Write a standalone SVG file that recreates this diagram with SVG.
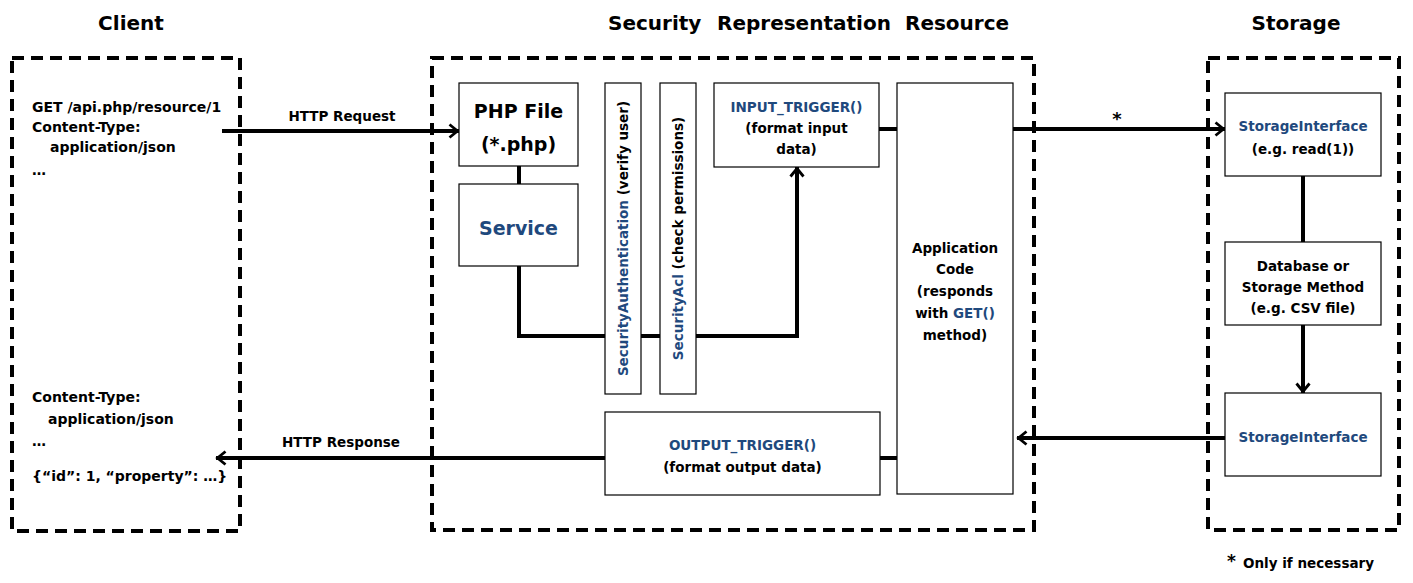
<svg xmlns="http://www.w3.org/2000/svg" width="1413" height="583" viewBox="0 0 1413 583">
<style>
text { font-family: "DejaVu Sans", "Liberation Sans", sans-serif; font-weight: bold; fill: #000; font-size: 13.5px; }
.title { font-size: 20px; }
.big { font-size: 19px; }
.cl { font-size: 14px; }
.blue { fill: #1F497D; }
.mid { text-anchor: middle; }
.node { fill: #fff; stroke: #000; stroke-width: 1.2; }
.zone { fill: none; stroke: #000; stroke-width: 4; stroke-dasharray: 12 7; }
.conn { fill: none; stroke: #000; stroke-width: 4; }
.arr { marker-end: url(#chev); }
</style>
<defs>
<marker id="chev" viewBox="-12 -9 14 18" refX="0" refY="0" markerWidth="14" markerHeight="18" markerUnits="userSpaceOnUse" orient="auto">
<path d="M-9.5,-6.5 L-1.5,0 L-9.5,6.5" fill="none" stroke="#000" stroke-width="2.8"/>
</marker>
</defs>
<rect width="1413" height="583" fill="#fff"/>

<g id="titles">
<text class="title mid" x="131" y="30">Client</text>
<text class="title" y="30"><tspan x="608">Security</tspan><tspan x="717">Representation</tspan><tspan x="905">Resource</tspan></text>
<text class="title mid" x="1296" y="30">Storage</text>
</g>

<g id="zones">
<rect id="zone-client" class="zone" x="12" y="58" width="228" height="473"/>
<rect id="zone-srr" class="zone" x="432" y="58" width="602" height="472"/>
<rect id="zone-storage" class="zone" x="1208" y="58" width="191" height="472"/>
</g>

<g id="connectors">
<path class="conn arr" d="M222,131 H459"/>
<path class="conn" d="M519,166 V184"/>
<path class="conn arr" d="M519,266 V336 H797 V167"/>
<path class="conn" d="M879,129 H897"/>
<path class="conn arr" d="M1013,129 H1225"/>
<path class="conn" d="M1303,176 V242"/>
<path class="conn arr" d="M1303,325 V393"/>
<path class="conn arr" d="M1225,438 H1017"/>
<path class="conn arr" d="M605,458 H216"/>
<path class="conn" d="M880,458 H897"/>
<text class="mid" x="342" y="121">HTTP Request</text>
<text class="mid" x="341" y="447">HTTP Response</text>
<text class="mid" x="1117" y="125" style="font-size:18px">*</text>
</g>

<g id="client-request">
<text class="cl" x="32" y="112">GET /api.php/resource/1</text>
<text class="cl" x="32" y="132">Content-Type:</text>
<text class="cl" x="50" y="152">application/json</text>
<text class="cl" x="32" y="175">…</text>
</g>

<g id="client-response">
<text class="cl" x="32" y="402">Content-Type:</text>
<text class="cl" x="48" y="424">application/json</text>
<text class="cl" x="32" y="446">…</text>
<text class="cl" x="32" y="481">{“id”: 1, “property”: …}</text>
</g>

<g id="php-file">
<rect class="node" x="459" y="83" width="119" height="83"/>
<text class="big mid" x="518.5" y="118">PHP File</text>
<text class="big mid" x="518.5" y="151">(*.php)</text>
</g>

<g id="service">
<rect class="node" x="459" y="184" width="119" height="82"/>
<text class="big mid blue" x="518.5" y="235">Service</text>
</g>

<g id="security-authentication">
<rect class="node" x="605" y="83" width="36" height="311"/>
<text class="mid" transform="translate(623,238.5) rotate(-90)" y="5"><tspan class="blue">SecurityAuthentication</tspan> (verify user)</text>
</g>

<g id="security-acl">
<rect class="node" x="660" y="83" width="36" height="311"/>
<text class="mid" transform="translate(678,238.5) rotate(-90)" y="5"><tspan class="blue">SecurityAcl</tspan> (check permissions)</text>
</g>

<g id="input-trigger">
<rect class="node" x="714" y="83" width="165" height="84"/>
<text class="mid blue" x="796.5" y="112">INPUT_TRIGGER()</text>
<text class="mid" x="796.5" y="133">(format input</text>
<text class="mid" x="796.5" y="154">data)</text>
</g>

<g id="application-code">
<rect class="node" x="897" y="83" width="116" height="411"/>
<text class="mid" x="955" y="253">Application</text>
<text class="mid" x="955" y="274">Code</text>
<text class="mid" x="955" y="296">(responds</text>
<text class="mid" x="955" y="318">with <tspan class="blue">GET()</tspan></text>
<text class="mid" x="955" y="340">method)</text>
</g>

<g id="output-trigger">
<rect class="node" x="605" y="412" width="275" height="83"/>
<text class="mid blue" x="742.5" y="450">OUTPUT_TRIGGER()</text>
<text class="mid" x="742.5" y="472">(format output data)</text>
</g>

<g id="storage-interface-read">
<rect class="node" x="1225" y="93" width="156" height="83"/>
<text class="mid blue" x="1303" y="131">StorageInterface</text>
<text class="mid" x="1303" y="154">(e.g. read(1))</text>
</g>

<g id="database">
<rect class="node" x="1225" y="242" width="156" height="83"/>
<text class="mid" x="1303" y="271">Database or</text>
<text class="mid" x="1303" y="292">Storage Method</text>
<text class="mid" x="1303" y="313">(e.g. CSV file)</text>
</g>

<g id="storage-interface-out">
<rect class="node" x="1225" y="393" width="156" height="83"/>
<text class="mid blue" x="1303" y="442">StorageInterface</text>
</g>

<g id="footnote">
<text x="1227" y="567" style="font-size:17px">*</text>
<text x="1243" y="568">Only if necessary</text>
</g>
</svg>
